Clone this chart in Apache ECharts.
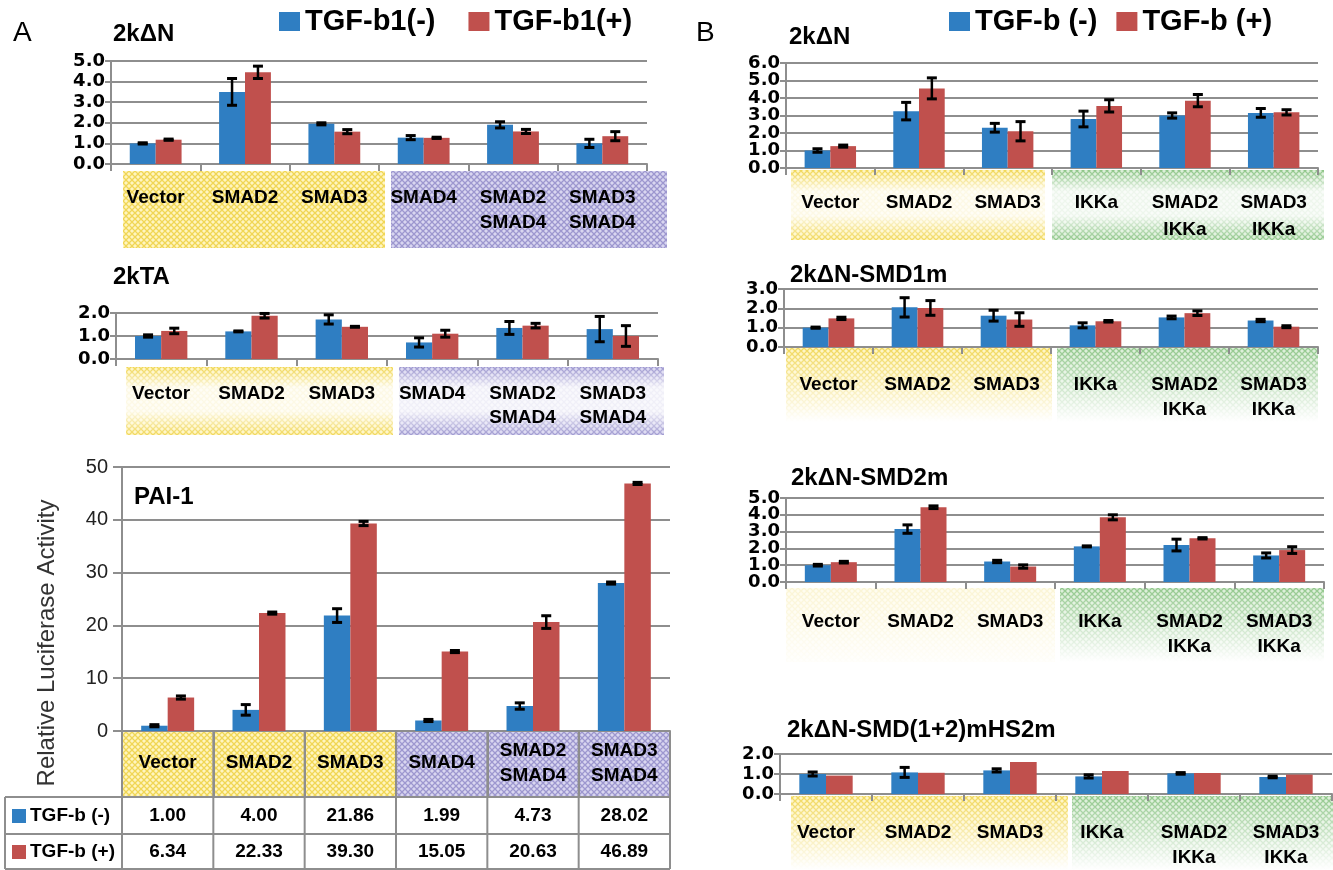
<!DOCTYPE html>
<html><head><meta charset="utf-8">
<script src="https://cdn.jsdelivr.net/npm/echarts@6.0.0/dist/echarts.min.js"></script>
<style>html,body{margin:0;padding:0;background:#fff}#c{width:1333px;height:870px}</style>
</head><body><div id="c"></div>
<script>
// ---------------- data ----------------
const catsA = ['Vector','SMAD2','SMAD3','SMAD4','SMAD2\nSMAD4','SMAD3\nSMAD4'];
const catsB = ['Vector','SMAD2','SMAD3','IKKa','SMAD2\nIKKa','SMAD3\nIKKa'];
const legendA = ['TGF-b1(-)','TGF-b1(+)'];
const legendB = ['TGF-b (-)','TGF-b (+)'];
const panelTitles = ['2kΔN','2kTA','PAI-1','2kΔN','2kΔN-SMD1m','2kΔN-SMD2m','2kΔN-SMD(1+2)mHS2m'];
const panelLetters = ['A','B'];
const yAxisName = 'Relative Luciferase Activity';
const yMax  = [5, 2, 50, 6, 3, 5, 2];
const yStep = [1, 1, 10, 1, 1, 1, 1];

// A: 2kΔN
const a1Neg = [1.00, 3.50, 1.95, 1.28, 1.90, 1.00];
const a1NegErr = [0.03, 0.65, 0.05, 0.10, 0.15, 0.20];
const a1Pos = [1.18, 4.45, 1.57, 1.27, 1.58, 1.35];
const a1PosErr = [0.03, 0.30, 0.10, 0.03, 0.10, 0.22];
// A: 2kTA
const a2Neg = [1.00, 1.20, 1.72, 0.72, 1.35, 1.30];
const a2NegErr = [0.05, 0.02, 0.20, 0.20, 0.28, 0.55];
const a2Pos = [1.22, 1.88, 1.40, 1.10, 1.45, 1.00];
const a2PosErr = [0.12, 0.10, 0.02, 0.15, 0.10, 0.45];
// A: PAI-1
const a3Neg = [1.00, 4.00, 21.86, 1.99, 4.73, 28.02];
const a3NegErr = [0.20, 1.00, 1.30, 0.20, 0.60, 0.20];
const a3Pos = [6.34, 22.33, 39.30, 15.05, 20.63, 46.89];
const a3PosErr = [0.30, 0.20, 0.40, 0.20, 1.20, 0.20];
// B: 2kΔN
const b1Neg = [1.00, 3.25, 2.30, 2.80, 3.00, 3.15];
const b1NegErr = [0.10, 0.50, 0.25, 0.45, 0.15, 0.25];
const b1Pos = [1.25, 4.55, 2.10, 3.55, 3.85, 3.18];
const b1PosErr = [0.06, 0.60, 0.55, 0.35, 0.35, 0.15];
// B: 2kΔN-SMD1m
const b2Neg = [1.00, 2.05, 1.62, 1.12, 1.53, 1.37];
const b2NegErr = [0.03, 0.50, 0.28, 0.13, 0.07, 0.06];
const b2Pos = [1.48, 2.02, 1.42, 1.33, 1.75, 1.05];
const b2PosErr = [0.06, 0.38, 0.35, 0.04, 0.12, 0.05];
// B: 2kΔN-SMD2m
const b3Neg = [1.00, 3.15, 1.22, 2.12, 2.20, 1.58];
const b3NegErr = [0.05, 0.25, 0.07, 0.03, 0.35, 0.15];
const b3Pos = [1.18, 4.45, 0.92, 3.85, 2.60, 1.90];
const b3PosErr = [0.05, 0.08, 0.10, 0.15, 0.04, 0.20];
// B: 2kΔN-SMD(1+2)mHS2m
const b4Neg = [1.00, 1.08, 1.18, 0.88, 1.03, 0.85];
const b4NegErr = [0.10, 0.25, 0.08, 0.08, 0.04, 0.04];
const b4Pos = [0.92, 1.06, 1.60, 1.15, 1.05, 0.97];
const b4PosErr = [0, 0, 0, 0, 0, 0];

// ---------------- styles / layout ----------------
const FONT = 'Liberation Sans, Arial, sans-serif';
const TICKFONT = 'DejaVu Sans, Liberation Sans, sans-serif';
const BLUE = '#2F7EC2', RED = '#C0504D', GRID = '#8E8E8E';
const GAP = 0.42;
const layout = [
  {left:111, top:61,  width:536, height:103, margin:21, lh:25, bg:{y:171,h:77, yx:[123,385], ox:[391,667], other:'purple', yf:'none', of:'none'}, title:[113,22]},
  {left:116, top:313, width:542, height:46,  margin:23, lh:24, bg:{y:367,h:68, yx:[126,393], ox:[399,664], other:'purple', yf:'mid', of:'mid'}, title:[113,265]},
  {left:122, top:467, width:548, height:264, margin:32, lh:25, bg:null, title:[134,485]},
  {left:786, top:63,  width:532, height:105, margin:21, lh:27, bg:{y:170,h:70, yx:[791,1045], ox:[1052,1324], other:'green', yf:'mid', of:'mid'}, title:[789,25]},
  {left:784, top:289, width:534, height:58,  margin:25, lh:25, bg:{y:348,h:74, yx:[786,1052], ox:[1057,1318], other:'green', yf:'bottom', of:'bottom'}, title:[790,263]},
  {left:786, top:498, width:538, height:84,  margin:27, lh:25, bg:{y:588,h:74, yx:[786,1055], ox:[1060,1324], other:'green', yf:'faint', of:'bottom'}, title:[791,466]},
  {left:780, top:754, width:552, height:40,  margin:26, lh:25, bg:{y:796,h:74, yx:[791,1068], ox:[1072,1333], other:'green', yf:'bottom', of:'bottom'}, title:[787,718]}
];

const panels = [
  {cats:catsA, names:legendA, neg:a1Neg, negE:a1NegErr, pos:a1Pos, posE:a1PosErr},
  {cats:catsA, names:legendA, neg:a2Neg, negE:a2NegErr, pos:a2Pos, posE:a2PosErr},
  {cats:catsA, names:legendB, neg:a3Neg, negE:a3NegErr, pos:a3Pos, posE:a3PosErr},
  {cats:catsB, names:legendB, neg:b1Neg, negE:b1NegErr, pos:b1Pos, posE:b1PosErr},
  {cats:catsB, names:legendB, neg:b2Neg, negE:b2NegErr, pos:b2Pos, posE:b2PosErr},
  {cats:catsB, names:legendB, neg:b3Neg, negE:b3NegErr, pos:b3Pos, posE:b3PosErr},
  {cats:catsB, names:legendB, neg:b4Neg, negE:b4NegErr, pos:b4Pos, posE:b4PosErr}
];

function makePattern(bg, fg){
  const c = document.createElement('canvas'); c.width = 6; c.height = 6;
  const g = c.getContext('2d');
  g.fillStyle = bg; g.fillRect(0,0,6,6);
  g.strokeStyle = fg; g.lineWidth = 1.3;
  g.beginPath(); g.moveTo(0,0); g.lineTo(6,6); g.moveTo(6,0); g.lineTo(0,6); g.stroke();
  return {image:c, repeat:'repeat'};
}
const PAT = {
  yellow: makePattern('#FFF5C0', '#F0D655'),
  purple: makePattern('#D9D6F0', '#9D97CF'),
  green:  makePattern('#DAEED6', '#8DC587')
};
function fadeFill(kind){
  const W = a => 'rgba(255,255,255,' + a + ')';
  if (kind === 'mid') return new echarts.graphic.LinearGradient(0,0,0,1,[{offset:0,color:W(0)},{offset:0.3,color:W(0.85)},{offset:0.65,color:W(0.85)},{offset:1,color:W(0.05)}]);
  if (kind === 'bottom') return new echarts.graphic.LinearGradient(0,0,0,1,[{offset:0,color:W(0.05)},{offset:0.5,color:W(0.55)},{offset:1,color:W(1)}]);
  if (kind === 'faint') return new echarts.graphic.LinearGradient(0,0,0,1,[{offset:0,color:W(0.75)},{offset:1,color:W(0.97)}]);
  return null;
}

function errRender(side){
  return function(params, api){
    const x = api.value(0), v = api.value(1), e = api.value(2);
    if (!e) return null;
    const catW = api.size([1,0])[0];
    const bw = catW * (1 - GAP) / 2;
    const cx = api.coord([x, v])[0] + side * bw / 2;
    const yT = api.coord([x, v + e])[1], yB = api.coord([x, Math.max(v - e, 0)])[1];
    const cap = 5;
    return {type:'group', children:[
      {type:'line', shape:{x1:cx,y1:yT,x2:cx,y2:yB}, style:{stroke:'#000',lineWidth:2.5}},
      {type:'line', shape:{x1:cx-cap,y1:yT,x2:cx+cap,y2:yT}, style:{stroke:'#000',lineWidth:3}},
      {type:'line', shape:{x1:cx-cap,y1:yB,x2:cx+cap,y2:yB}, style:{stroke:'#000',lineWidth:3}}
    ]};
  };
}

const grid = [], xAxis = [], yAxis = [], series = [], title = [], graphic = [];
panels.forEach((p, i) => {
  const L = layout[i];
  const isPAI = (i === 2);
  grid.push({left:L.left, top:L.top, width:L.width, height:L.height});
  xAxis.push({
    type:'category', gridIndex:i, data:p.cats,
    axisLine:{lineStyle:{color:GRID, width:2}},
    axisTick:{show:true, interval:0, length: isPAI ? 66 : 7, lineStyle:{color:GRID, width:2}},
    axisLabel:{interval:0, margin:L.margin, lineHeight:L.lh, fontSize:19, fontWeight:'bold', color:'#000', fontFamily:FONT,
      verticalAlign: isPAI ? 'middle' : 'top'}
  });
  yAxis.push({
    type:'value', gridIndex:i, min:0, max:yMax[i], interval:yStep[i],
    axisLine:{show:true, lineStyle:{color:GRID, width:2}},
    axisTick:{show:true, length: isPAI ? 9 : 6, lineStyle:{color:GRID, width:2}},
    splitLine:{lineStyle:{color:GRID, width:2}},
    axisLabel: isPAI
      ? {formatter: v => String(v), fontSize:20, color:'#222', margin:14, fontFamily:FONT}
      : {show:false}
  });
  series.push({type:'bar', name:p.names[0], xAxisIndex:i, yAxisIndex:i, data:p.neg, barGap:'0%', barCategoryGap:(GAP*100)+'%', itemStyle:{color:BLUE}, z:2});
  series.push({type:'bar', name:p.names[1], xAxisIndex:i, yAxisIndex:i, data:p.pos, barGap:'0%', barCategoryGap:(GAP*100)+'%', itemStyle:{color:RED}, z:2});
  series.push({type:'custom', xAxisIndex:i, yAxisIndex:i, renderItem:errRender(-1), data:p.neg.map((v,k)=>[k, v, p.negE[k]]), z:5, silent:true});
  series.push({type:'custom', xAxisIndex:i, yAxisIndex:i, renderItem:errRender(1),  data:p.pos.map((v,k)=>[k, v, p.posE[k]]), z:5, silent:true});
  title.push({text:panelTitles[i], left:L.title[0], top:L.title[1], padding:0,
    textStyle:{fontSize:24, fontWeight:'bold', color:'#000', fontFamily:FONT}});
  if (L.bg) {
    const b = L.bg;
    [[b.yx, 'yellow', b.yf], [b.ox, b.other, b.of]].forEach(([xs, col, fd]) => {
      graphic.push({type:'rect', z:-10, shape:{x:xs[0], y:b.y, width:xs[1]-xs[0], height:b.h}, style:{fill:PAT[col]}, silent:true});
      const f = fadeFill(fd);
      if (f) graphic.push({type:'rect', z:-9, shape:{x:xs[0], y:b.y, width:xs[1]-xs[0], height:b.h}, style:{fill:f}, silent:true});
    });
  }
});

// PAI-1 table: value rows as extra category axes on the PAI-1 grid
const P = layout[2];
const tableRowMargins = [85, 121];
[a3Neg, a3Pos].forEach((arr, r) => {
  xAxis.push({type:'category', gridIndex:2, position:'bottom', data:arr.map(v => v.toFixed(2)),
    axisLine:{show:false}, axisTick:{show:false},
    axisLabel:{interval:0, margin:tableRowMargins[r], verticalAlign:'middle', fontSize:19, fontWeight:'bold', color:'#000', fontFamily:FONT}});
});
// PAI-1 cell backgrounds & table lines
const cellTop = P.top + P.height, cellBot = 797, tabBot = 869, tabLeft = 5, cw = P.width / 6;
graphic.push({type:'rect', z:-10, shape:{x:P.left, y:cellTop, width:cw*3, height:cellBot-cellTop}, style:{fill:PAT.yellow}, silent:true});
graphic.push({type:'rect', z:-10, shape:{x:P.left+cw*3, y:cellTop, width:cw*3, height:cellBot-cellTop}, style:{fill:PAT.purple}, silent:true});
const LS = {stroke:GRID, lineWidth:2};
for (let k = 0; k <= 6; k++) {
  const x = P.left + cw*k;
  graphic.push({type:'line', z:10, shape:{x1:x, y1:cellTop, x2:x, y2:tabBot}, style:LS, silent:true});
}
[cellBot, 834, tabBot].forEach(y => graphic.push({type:'line', z:10, shape:{x1:tabLeft, y1:y, x2:P.left+P.width, y2:y}, style:LS, silent:true}));
graphic.push({type:'line', z:10, shape:{x1:tabLeft, y1:cellBot, x2:tabLeft, y2:tabBot}, style:LS, silent:true});
[[816, BLUE, legendB[0]], [852, RED, legendB[1]]].forEach(([y, c, t]) => {
  graphic.push({type:'rect', z:10, shape:{x:12, y:y-7, width:14, height:14}, style:{fill:c}, silent:true});
  graphic.push({type:'text', z:10, x:30, y:y, style:{text:t, fontSize:19, fontWeight:'bold', fill:'#000', fontFamily:FONT, verticalAlign:'middle', align:'left'}, silent:true});
});
// letters & y axis name
graphic.push({type:'text', x:13, y:33, style:{text:panelLetters[0], fontSize:28, fill:'#000', fontFamily:FONT, verticalAlign:'middle'}});
graphic.push({type:'text', x:696, y:33, style:{text:panelLetters[1], fontSize:28, fill:'#000', fontFamily:FONT, verticalAlign:'middle'}});
graphic.push({type:'text', x:47, y:643, rotation:Math.PI/2, style:{text:yAxisName, fontSize:24, fill:'#333', fontFamily:FONT, align:'center', verticalAlign:'middle'}});

const legendStyle = {icon:'rect', itemWidth:21, itemHeight:19, padding:0, selectedMode:false,
  textStyle:{fontSize:29, fontWeight:'bold', color:'#000', fontFamily:FONT}};
const option = {
  animation:false,
  backgroundColor:'#fff',
  title,
  legend:[
    Object.assign({data:legendA, left:279, top:7, itemGap:33}, legendStyle),
    Object.assign({data:legendB, left:949, top:7, itemGap:19}, legendStyle)
  ],
  grid, xAxis, yAxis, series,
  graphic:{elements:graphic}
};
const chart = echarts.init(document.getElementById('c'), null, {renderer:'canvas'});
chart.setOption(option);

// y tick labels placed through the value axes' own scales (avoids automatic overlap hiding)
const tickLabels = [];
panels.forEach((p, i) => {
  if (i === 2) return;
  for (let k = 0; k * yStep[i] <= yMax[i] + 1e-9; k++) {
    const v = k * yStep[i];
    const y = chart.convertToPixel({yAxisIndex:i}, v);
    tickLabels.push({type:'text', z:10, x:layout[i].left - 6, y:y, silent:true,
      style:{text:v.toFixed(1), align:'right', verticalAlign:'middle', fontSize:18, fontWeight:'bold', fill:'#000', fontFamily:TICKFONT}});
  }
});
chart.setOption({graphic:{elements:graphic.concat(tickLabels)}});
</script>
</body></html>
